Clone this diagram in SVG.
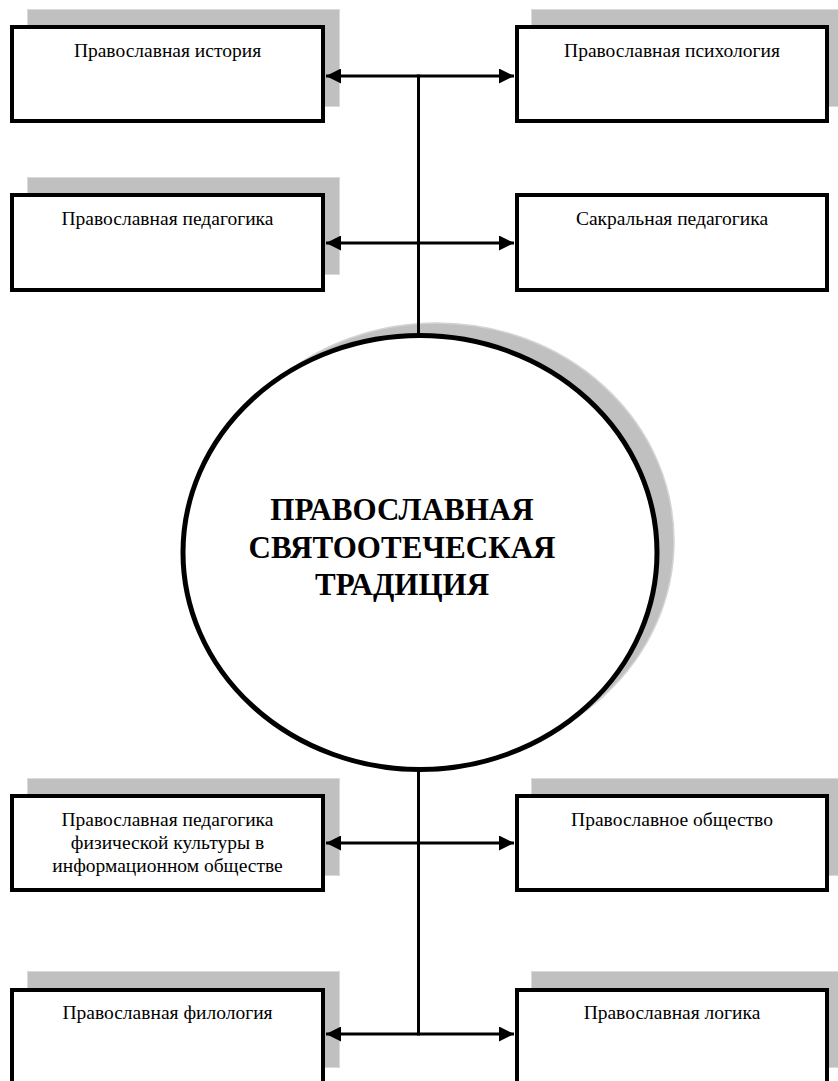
<svg xmlns="http://www.w3.org/2000/svg" width="838" height="1081" viewBox="0 0 838 1081">
<style>
.sh{fill:#c0c0c0;stroke:#dadada;stroke-width:1}
.bx{fill:#fff;stroke:#000;stroke-width:4}
.t{font-family:"Liberation Serif","Times New Roman","DejaVu Serif",serif;font-size:19.5px;fill:#000;text-anchor:middle}
.tb{font-family:"Liberation Serif","Times New Roman","DejaVu Serif",serif;font-size:31px;font-weight:bold;fill:#000;text-anchor:middle}
.ln{stroke:#000;stroke-width:3;fill:none}
</style>
<defs>
<marker id="ah" viewBox="0 0 10 10" refX="10" refY="5" markerWidth="5" markerHeight="5" markerUnits="strokeWidth" orient="auto">
<path d="M0,0 L10,5 L0,10 Z" fill="#000"/>
</marker>
</defs>
<rect width="838" height="1081" fill="#fff"/>
<g id="center">
<ellipse class="sh" cx="437" cy="541" rx="237" ry="218" style="stroke:#d4d4d4;stroke-width:1.5"/>
<ellipse cx="420" cy="552.5" rx="237" ry="217" fill="#fff" stroke="#000" stroke-width="5"/>
<text class="tb" x="402" y="520">ПРАВОСЛАВНАЯ</text>
<text class="tb" x="402" y="558">СВЯТООТЕЧЕСКАЯ</text>
<text class="tb" x="402" y="595">ТРАДИЦИЯ</text>
</g>
<g id="node1">
<rect class="sh" x="27.5" y="9.5" width="312" height="97"/>
<rect class="bx" x="12" y="27" width="311" height="94"/>
<text class="t" x="167.5" y="57">Православная история</text>
</g>
<g id="node2">
<rect class="sh" x="531.5" y="9.5" width="312" height="97"/>
<rect class="bx" x="517" y="27" width="310" height="94"/>
<text class="t" x="672" y="57">Православная психология</text>
</g>
<g id="node3">
<rect class="sh" x="27.5" y="177.5" width="312" height="97"/>
<rect class="bx" x="12" y="195" width="311" height="95"/>
<text class="t" x="167.5" y="225">Православная педагогика</text>
</g>
<g id="node4">
<rect class="bx" x="517" y="195" width="310" height="95"/>
<text class="t" x="672" y="225">Сакральная педагогика</text>
</g>
<g id="node5">
<rect class="sh" x="27.5" y="778.5" width="312" height="97"/>
<rect class="bx" x="12" y="796" width="311" height="94"/>
<text class="t" x="167.5" y="826">Православная педагогика</text>
<text class="t" x="167.5" y="849">физической культуры в</text>
<text class="t" x="167.5" y="872">информационном обществе</text>
</g>
<g id="node6">
<rect class="sh" x="531.5" y="778.5" width="312" height="97"/>
<rect class="bx" x="517" y="796" width="310" height="94"/>
<text class="t" x="672" y="826">Православное общество</text>
</g>
<g id="node7">
<rect class="sh" x="27.5" y="971.5" width="312" height="96"/>
<rect class="bx" x="12" y="990" width="311" height="94"/>
<text class="t" x="167.5" y="1019">Православная филология</text>
</g>
<g id="node8">
<rect class="sh" x="531.5" y="971.5" width="312" height="96"/>
<rect class="bx" x="517" y="990" width="310" height="94"/>
<text class="t" x="672" y="1019">Православная логика</text>
</g>
<g id="connectors">
<line class="ln" x1="418.5" y1="74.5" x2="418.5" y2="335"/>
<line class="ln" x1="418.5" y1="770" x2="418.5" y2="1035.5"/>
<line class="ln" x1="418.5" y1="76" x2="326" y2="76" marker-end="url(#ah)"/>
<line class="ln" x1="418.5" y1="76" x2="514" y2="76" marker-end="url(#ah)"/>
<line class="ln" x1="418.5" y1="243" x2="326" y2="243" marker-end="url(#ah)"/>
<line class="ln" x1="418.5" y1="243" x2="514" y2="243" marker-end="url(#ah)"/>
<line class="ln" x1="418.5" y1="843" x2="326" y2="843" marker-end="url(#ah)"/>
<line class="ln" x1="418.5" y1="843" x2="514" y2="843" marker-end="url(#ah)"/>
<line class="ln" x1="418.5" y1="1034" x2="326" y2="1034" marker-end="url(#ah)"/>
<line class="ln" x1="418.5" y1="1034" x2="514" y2="1034" marker-end="url(#ah)"/>
</g>
</svg>
